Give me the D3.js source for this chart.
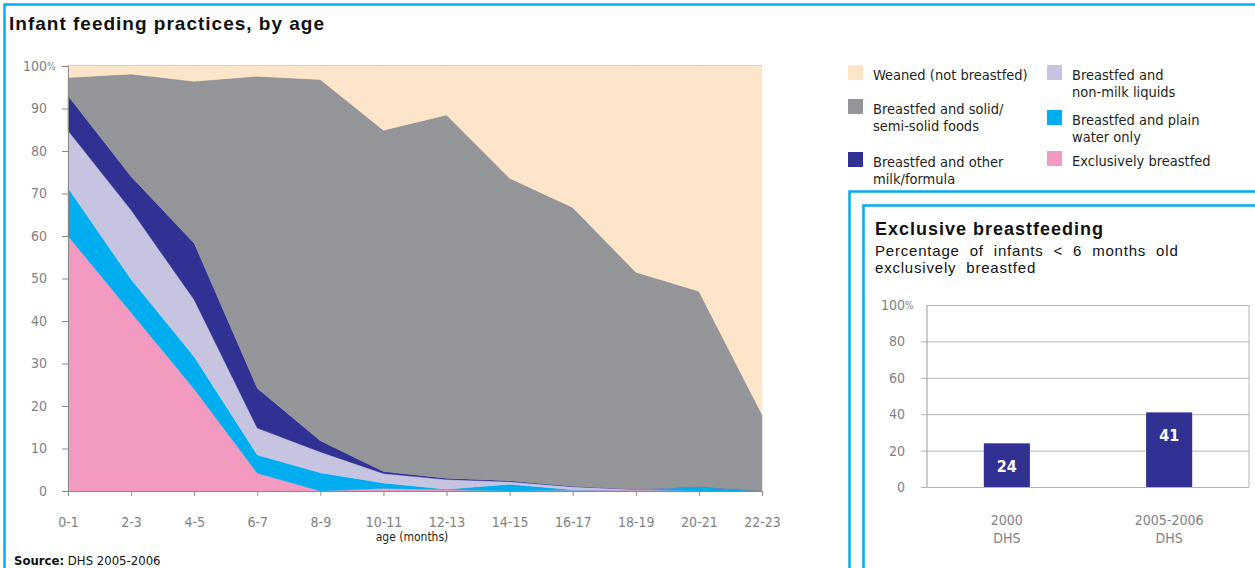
<!DOCTYPE html>
<html>
<head>
<meta charset="utf-8">
<script src="https://cdn.jsdelivr.net/npm/d3@7"></script>
<style>
  body { margin: 0; background: #fff; }
  svg { display: block; }
  .narrow { font-family: "Liberation Sans Narrow", "Arial Narrow", "DejaVu Sans Condensed", sans-serif; font-stretch: condensed; }
  .sans { font-family: "Liberation Sans", Arial, Helvetica, sans-serif; }
  .tickText { fill: #808285; font-size: 14px; }
</style>
</head>
<body>
<svg id="svgContainer" width="1255" height="568"></svg>
<script>
/* ==== Data ==== */
var ageGroups = ["0-1", "2-3", "4-5", "6-7", "8-9", "10-11", "12-13", "14-15", "16-17", "18-19", "20-21", "22-23"];
var exclusive  = [60.0, 42.0, 24.0, 4.2, 0.0, 0.6, 0.3, 0.0, 0.2, 0.3, 0.0, 0.0];
var plainWater = [11.3, 7.8, 7.6, 4.3, 4.3, 1.3, 0.1, 1.6, 0.1, 0.0, 1.0, 0.0];
var nonMilk    = [13.5, 16.3, 13.4, 6.3, 4.9, 2.2, 2.3, 0.6, 0.7, 0.1, 0.0, 0.0];
var otherMilk  = [8.2, 7.9, 13.3, 9.4, 2.6, 0.5, 0.3, 0.2, 0.1, 0.0, 0.0, 0.0];
var solidFoods = [4.3, 24.1, 38.1, 73.4, 85.0, 80.3, 85.5, 71.2, 65.6, 51.1, 46.0, 18.0];
var weaned     = [2.7, 1.9, 3.6, 2.4, 3.2, 15.1, 11.5, 26.4, 33.3, 48.5, 53.0, 82.0];

var seriesKeys = ["exclusive", "plainWater", "nonMilk", "otherMilk", "solidFoods", "weaned"];
var seriesLabels = {
  weaned: ["Weaned (not breastfed)"],
  solidFoods: ["Breastfed and solid/", "semi-solid foods"],
  otherMilk: ["Breastfed and other", "milk/formula"],
  nonMilk: ["Breastfed and", "non-milk liquids"],
  plainWater: ["Breastfed and plain", "water only"],
  exclusive: ["Exclusively breastfed"]
};
var yTicks = [0, 10, 20, 30, 40, 50, 60, 70, 80, 90, 100];

var surveyYears = ["2000", "2005-2006"];
var surveySource = "DHS";
var exclusiveRates = [24, 41];
var insetTicks = [0, 20, 40, 60, 80, 100];

/* ==== Colours ==== */
var colors = {
  exclusive: "#f39ac1",
  plainWater: "#00aeef",
  nonMilk: "#c7c4e1",
  otherMilk: "#313194",
  solidFoods: "#939598",
  weaned: "#fde5c9"
};
var FRAME = "#00aeef";

var svg = d3.select("#svgContainer");

/* ==== Frames ==== */
svg.append("path").attr("d", "M4.5,568 V4.5 H1255")
   .attr("fill", "none").attr("stroke", FRAME).attr("stroke-width", 2.5);
svg.append("path").attr("d", "M849.5,568 V191.5 H1255")
   .attr("fill", "none").attr("stroke", FRAME).attr("stroke-width", 2.5);
svg.append("path").attr("d", "M863.5,568 V205.5 H1255")
   .attr("fill", "none").attr("stroke", FRAME).attr("stroke-width", 2.5);

/* ==== Title ==== */
svg.append("text").attr("class", "sans")
   .attr("x", 9).attr("y", 30)
   .attr("font-size", 19).attr("font-weight", "bold").attr("fill", "#111")
   .attr("letter-spacing", 1)
   .text("Infant feeding practices, by age");

/* ==== Main stacked area ==== */
var PLOT_LEFT = 68, PLOT_RIGHT = 762, PLOT_TOP = 66, PLOT_BOTTOM = 491;

var x = d3.scalePoint().domain(ageGroups).range([PLOT_LEFT, PLOT_RIGHT]);
var y = d3.scaleLinear().domain([0, 100]).range([PLOT_BOTTOM, PLOT_TOP]);

var table = ageGroups.map(function(age, i) {
  return {
    age: age,
    exclusive: exclusive[i],
    plainWater: plainWater[i],
    nonMilk: nonMilk[i],
    otherMilk: otherMilk[i],
    solidFoods: solidFoods[i],
    weaned: weaned[i]
  };
});

var stacked = d3.stack().keys(seriesKeys)(table);

var area = d3.area()
  .x(function(d) { return x(d.data.age); })
  .y0(function(d) { return y(d[0]); })
  .y1(function(d) { return y(d[1]); });

svg.append("g").attr("class", "areas")
   .selectAll("path")
   .data(stacked)
   .enter()
   .append("path")
   .attr("d", area)
   .attr("fill", function(d) { return colors[d.key]; })
   .attr("stroke", function(d) { return colors[d.key]; })
   .attr("stroke-width", 0.4);

// top border of the plot
svg.append("line")
   .attr("x1", PLOT_LEFT).attr("x2", PLOT_RIGHT)
   .attr("y1", PLOT_TOP - 0.5).attr("y2", PLOT_TOP - 0.5)
   .attr("stroke", "#d4d4d4").attr("stroke-width", 1);

/* ==== Y axis ==== */
var yAxis = svg.append("g")
  .attr("transform", "translate(" + PLOT_LEFT + ",0)")
  .call(d3.axisLeft(y).tickValues(yTicks).tickSize(6).tickPadding(15));
yAxis.select(".domain").attr("stroke", "#8a8a8a");
yAxis.selectAll(".tick line").attr("stroke", "#8a8a8a");
yAxis.selectAll(".tick text").attr("class", "narrow tickText").attr("font-family", null).attr("font-size", null);
yAxis.selectAll(".tick").filter(function(d) { return d === 100; })
  .append("text").attr("class", "narrow")
  .attr("x", -21).attr("dy", "0.32em")
  .attr("fill", "#808285").attr("font-size", 10)
  .attr("text-anchor", "start")
  .text("%");

/* ==== X axis ==== */
var xAxis = svg.append("g")
  .attr("transform", "translate(0," + PLOT_BOTTOM + ")")
  .call(d3.axisBottom(x).tickSize(5).tickPadding(21));
xAxis.select(".domain").attr("stroke", "#8a8a8a").attr("d", "M" + (PLOT_LEFT - 6) + ",0.5H" + PLOT_RIGHT);
xAxis.selectAll(".tick line").attr("stroke", "#8a8a8a");
xAxis.selectAll(".tick text").attr("class", "narrow tickText").attr("font-family", null).attr("font-size", null);

svg.append("text").attr("class", "narrow")
   .attr("x", (PLOT_LEFT + PLOT_RIGHT) / 2 - 3).attr("y", 541)
   .attr("text-anchor", "middle").attr("font-size", 12).attr("fill", "#231f20")
   .text("age (months)");

/* ==== Source ==== */
var src = svg.append("text").attr("class", "narrow")
   .attr("x", 14).attr("y", 565).attr("font-size", 13).attr("fill", "#111");
src.append("tspan").attr("font-weight", "bold").text("Source:");
src.append("tspan").text(" DHS 2005-2006");

/* ==== Legend ==== */
var legendLayout = [
  { key: "weaned", x: 848, y: 65 },
  { key: "solidFoods", x: 848, y: 99 },
  { key: "otherMilk", x: 848, y: 152 },
  { key: "nonMilk", x: 1047, y: 65 },
  { key: "plainWater", x: 1047, y: 110 },
  { key: "exclusive", x: 1047, y: 151 }
];
var SQUARE = 15;
var legendItem = svg.append("g").attr("class", "legend")
  .selectAll("g")
  .data(legendLayout)
  .enter()
  .append("g")
  .attr("transform", function(d) { return "translate(" + d.x + "," + d.y + ")"; });

legendItem.append("rect")
  .attr("width", SQUARE).attr("height", SQUARE)
  .attr("fill", function(d) { return colors[d.key]; });

legendItem.append("text").attr("class", "narrow")
  .attr("font-size", 14.5).attr("fill", "#231f20")
  .selectAll("tspan")
  .data(function(d) { return seriesLabels[d.key]; })
  .enter()
  .append("tspan")
  .attr("x", 25)
  .attr("y", function(d, i) { return SQUARE + i * 17; })
  .text(function(d) { return d; });

/* ==== Inset: exclusive breastfeeding ==== */
svg.append("text").attr("class", "sans")
   .attr("x", 875).attr("y", 235)
   .attr("font-size", 18).attr("font-weight", "bold").attr("fill", "#111")
   .attr("letter-spacing", 1)
   .text("Exclusive breastfeeding");
svg.append("text").attr("class", "sans")
   .attr("x", 875).attr("y", 256)
   .attr("font-size", 15).attr("fill", "#111")
   .attr("letter-spacing", 0.8).attr("word-spacing", 5)
   .text("Percentage of infants < 6 months old");
svg.append("text").attr("class", "sans")
   .attr("x", 875).attr("y", 273)
   .attr("font-size", 15).attr("fill", "#111")
   .attr("letter-spacing", 0.8).attr("word-spacing", 5)
   .text("exclusively breastfed");

var IN_LEFT = 927, IN_RIGHT = 1249, IN_TOP = 305, IN_BOTTOM = 487;
var insetX = d3.scaleBand().domain(surveyYears).range([IN_LEFT, IN_RIGHT])
  .paddingInner(0.716).paddingOuter(0.35);
var insetY = d3.scaleLinear().domain([0, 100]).range([IN_BOTTOM, IN_TOP]);

var inAxis = svg.append("g")
  .attr("transform", "translate(921,0)")
  .call(d3.axisLeft(insetY).tickValues(insetTicks).tickSize(-(IN_RIGHT - 921)).tickPadding(16));
inAxis.select(".domain").remove();
inAxis.selectAll(".tick line").attr("stroke", "#b3b3b3");
inAxis.selectAll(".tick").filter(function(d) { return d === 100; }).select("line").attr("x1", IN_LEFT - 921);
inAxis.selectAll(".tick text").attr("class", "narrow tickText").attr("font-family", null).attr("font-size", null);
inAxis.selectAll(".tick").filter(function(d) { return d === 100; })
  .append("text").attr("class", "narrow")
  .attr("x", -16).attr("dy", "0.32em")
  .attr("fill", "#808285").attr("font-size", 10)
  .attr("text-anchor", "start")
  .text("%");

svg.append("line").attr("x1", IN_LEFT).attr("x2", IN_LEFT)
   .attr("y1", IN_TOP).attr("y2", IN_BOTTOM).attr("stroke", "#9a9a9a");
svg.append("line").attr("x1", IN_RIGHT).attr("x2", IN_RIGHT)
   .attr("y1", IN_TOP).attr("y2", IN_BOTTOM).attr("stroke", "#b3b3b3");

svg.append("g").selectAll("rect")
   .data(exclusiveRates)
   .enter()
   .append("rect")
   .attr("x", function(d, i) { return insetX(surveyYears[i]); })
   .attr("y", function(d) { return insetY(d); })
   .attr("width", insetX.bandwidth())
   .attr("height", function(d) { return IN_BOTTOM - insetY(d); })
   .attr("fill", colors.otherMilk);

svg.append("g").selectAll("text")
   .data(exclusiveRates)
   .enter()
   .append("text").attr("class", "narrow")
   .attr("x", function(d, i) { return insetX(surveyYears[i]) + insetX.bandwidth() / 2; })
   .attr("y", function(d) { return insetY(d) + 29; })
   .attr("text-anchor", "middle").attr("font-size", 16).attr("font-weight", "bold")
   .attr("fill", "#fff")
   .text(function(d) { return d; });

var catLabels = svg.append("g").selectAll("text")
   .data(surveyYears)
   .enter()
   .append("text").attr("class", "narrow tickText")
   .attr("text-anchor", "middle");
catLabels.append("tspan")
   .attr("x", function(d) { return insetX(d) + insetX.bandwidth() / 2; })
   .attr("y", 525)
   .text(function(d) { return d; });
catLabels.append("tspan")
   .attr("x", function(d) { return insetX(d) + insetX.bandwidth() / 2; })
   .attr("y", 543)
   .text(surveySource);
</script>
</body>
</html>
